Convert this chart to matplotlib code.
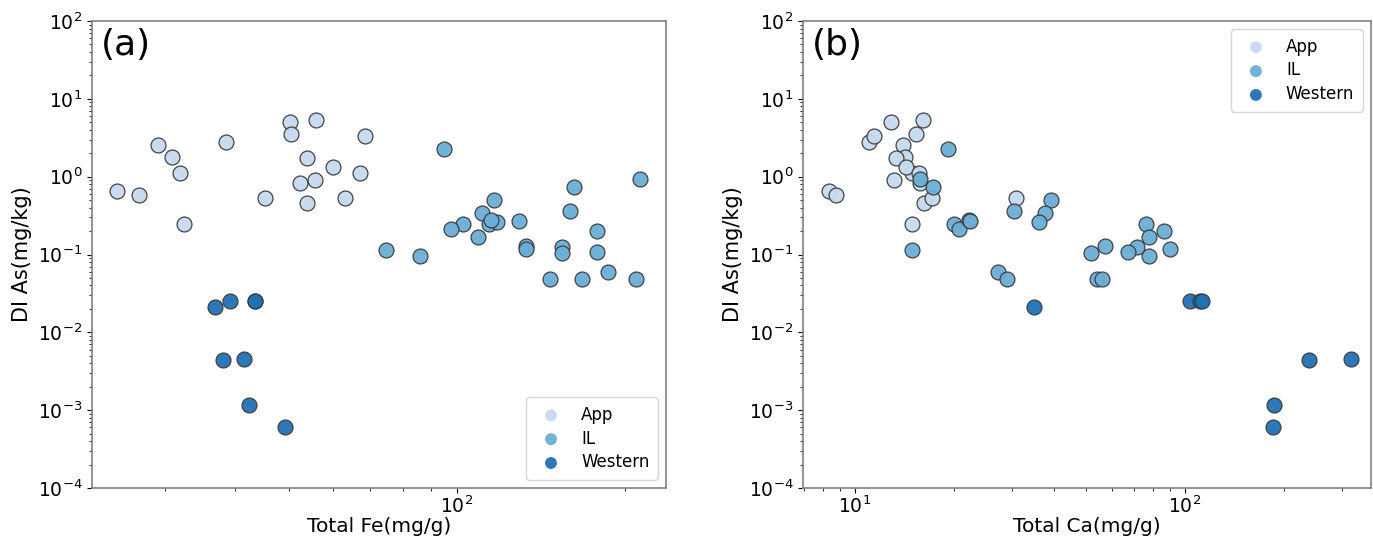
import matplotlib
matplotlib.use("Agg")
import matplotlib.pyplot as plt
from matplotlib.ticker import NullFormatter

## Data

groups = ["App", "IL", "Western"]
colors = ["#c6dbef", "#6aaed6", "#2171b5"]

app_as = [0.65, 0.58, 2.55, 1.77, 1.11, 0.25, 2.75, 0.54, 5.0, 3.5,
          5.3, 1.74, 0.84, 0.91, 0.46, 1.33, 0.53, 1.10, 3.3]
app_fe = [24.6, 26.9, 29.1, 30.9, 31.9, 32.4, 38.6, 45.4, 50.3, 50.5,
          56.0, 53.8, 52.3, 55.7, 53.9, 60.1, 63.1, 67.1, 68.4]
app_ca = [8.36, 8.76, 14.0, 14.2, 14.9, 14.9, 11.0, 30.7, 12.9, 15.3,
          16.1, 13.3, 15.8, 13.1, 16.2, 14.3, 17.1, 15.6, 11.4]

il_as = [2.29, 0.925, 0.74, 0.50, 0.36, 0.34, 0.25, 0.25, 0.21, 0.26,
         0.28, 0.27, 0.17, 0.20, 0.115, 0.095, 0.128, 0.116, 0.125, 0.106,
         0.109, 0.049, 0.049, 0.060, 0.048]
il_fe = [94.7, 213, 162, 116.7, 159.6, 111.1, 102.6, 114.0, 97.6, 118.0,
         115.3, 129.1, 108.9, 178.1, 74.7, 86.0, 133.2, 133.2, 154.3, 154.3,
         178.3, 147.1, 167.6, 186.3, 209.0]
il_ca = [19.1, 15.8, 17.3, 39.4, 30.3, 37.7, 19.9, 76.2, 20.7, 36.1,
         22.1, 22.3, 77.6, 86.4, 14.9, 78.0, 57.3, 90.2, 71.5, 52.0,
         67.0, 54.1, 56.1, 27.2, 28.9]

west_as = [0.0211, 0.0255, 0.0253, 0.0253, 0.00438, 0.0046, 0.00115, 0.0006]
west_fe = [36.9, 39.3, 43.4, 43.4, 38.1, 41.6, 42.4, 49.2]
west_ca = [35.0, 103.5, 111.0, 113.0, 237.6, 319.0, 186.7, 184.5]

## Plotting

fig = plt.figure(figsize=(13.73, 5.45), dpi=100)
ax1 = fig.add_axes([0.0670, 0.1045, 0.4181, 0.8570])
ax2 = fig.add_axes([0.5848, 0.1045, 0.4137, 0.8570])

panels = [
    (ax1, [app_fe, il_fe, west_fe], "Total Fe(mg/g)", "(a)", (22.2, 237), "lower right"),
    (ax2, [app_ca, il_ca, west_ca], "Total Ca(mg/g)", "(b)", (6.96, 366), "upper right"),
]
ys = [app_as, il_as, west_as]

for ax, xs, xlabel, tag, xlim, loc in panels:
    for name, col, x, y in zip(groups, colors, xs, ys):
        ax.scatter(x, y, s=115, c=col, edgecolors="#3a3a3a", linewidths=0.9,
                   alpha=0.95, label=name, zorder=3)
    ax.set_xscale("log")
    ax.set_yscale("log")
    ax.set_xlim(*xlim)
    ax.set_ylim(1e-4, 1e2)
    ax.xaxis.set_minor_formatter(NullFormatter())
    ax.yaxis.set_minor_formatter(NullFormatter())
    ax.set_xlabel(xlabel, fontsize=14.5, labelpad=0)
    ax.set_ylabel("DI As(mg/kg)", fontsize=15)
    ax.tick_params("both", labelsize=13.5)
    ax.tick_params("x", pad=2)
    for sp in ax.spines.values():
        sp.set_color("#808080")
        sp.set_linewidth(1.2)
    ax.text(0.015, 0.985, tag, transform=ax.transAxes, fontsize=26,
            va="top", ha="left")
    leg = ax.legend(loc=loc, fontsize=12, markerscale=0.8, handletextpad=0.8,
                    borderpad=0.5, labelspacing=0.35)
    for h in leg.legend_handles:
        h.set_edgecolor("none")

fig.savefig("out.png", dpi=100)
